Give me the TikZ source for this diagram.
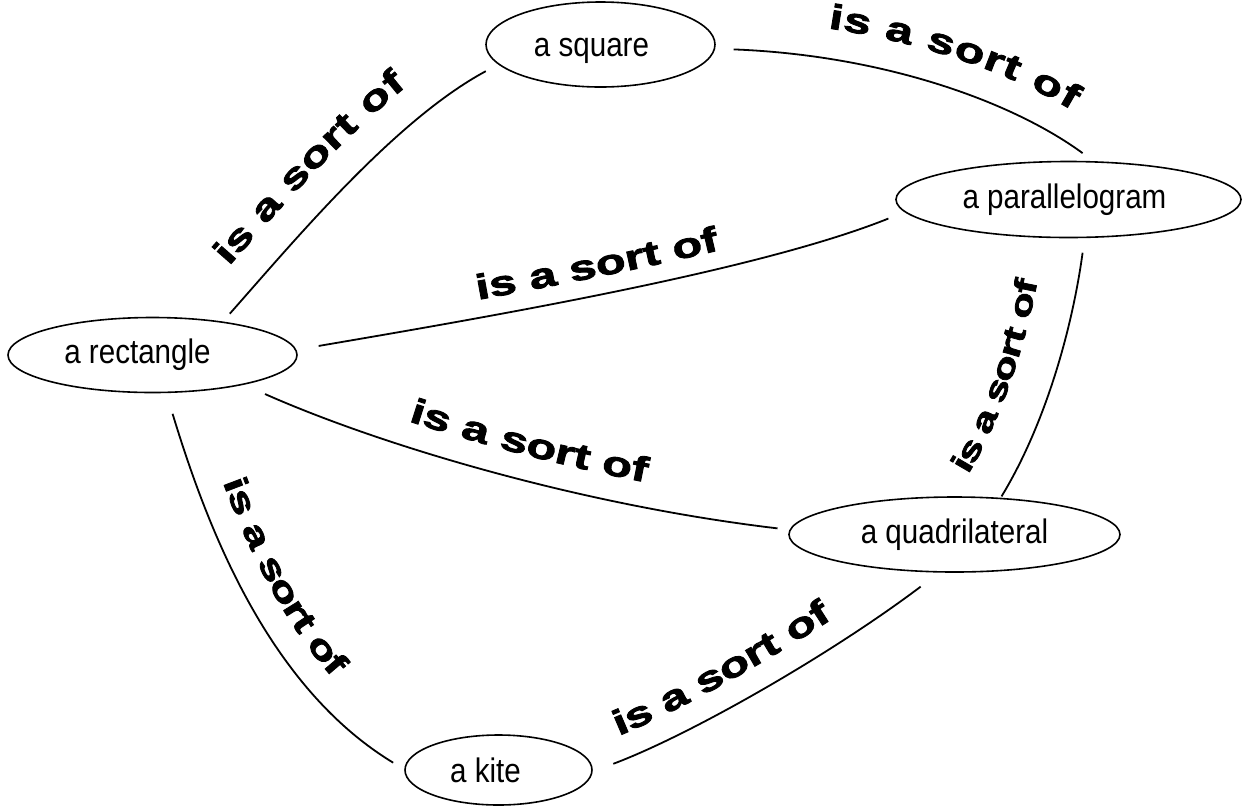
\documentclass[tikz,border=0pt]{standalone}
\usepackage{fontspec}
\setmainfont{Liberation Sans}
\newfontfamily\nodefamily[FakeStretch=0.87]{Liberation Sans}
\newfontfamily\lblfamily[FakeStretch=1.4,FakeBold=2.5]{Liberation Sans}
\newcommand\lblfont[1]{\lblfamily\bfseries\fontsize{#1}{#1}\selectfont}
\usetikzlibrary{decorations.text,shapes.geometric}
\tikzset{
  nd/.style={draw, ellipse, line width=1.6pt, inner sep=0pt,
    font=\nodefamily\fontsize{34}{34}\selectfont},
  con/.style={line width=1.8pt},
  lbl/.style n args={3}{postaction={decorate, decoration={text along path,
    text={|\lblfont{#3}|is a sort of}, raise=#1, text align={left indent=#2}}}}
}
\begin{document}
\begin{tikzpicture}[x=1pt,y=-1pt]
\fill[white] (0,0) rectangle (1248,807);
\useasboundingbox (0,0) rectangle (1248,807);
\node[nd, minimum width=229pt, minimum height=85pt] (sq) at (600.5,44.5)
  {\raisebox{-6pt}[\height][\depth]{a square}\hspace*{18pt}};
\node[nd, minimum width=345pt, minimum height=76pt] (par) at (1068.5,199.5)
  {a parallelogram\hspace*{8pt}};
\node[nd, minimum width=289pt, minimum height=75pt] (rect) at (152.5,355)
  {a rectangle\hspace*{30pt}};
\node[nd, minimum width=331pt, minimum height=75pt] (quad) at (954.5,534.5)
  {a quadrilateral};
\node[nd, minimum width=187pt, minimum height=70pt] (kite) at (498.5,770)
  {a kite\hspace*{26pt}};
% square -> parallelogram
\draw[con, lbl={30pt}{90pt}{35}] ([shift={(-2.8:18.4pt)}]sq.-2.8) .. controls (880,55) and (1010,100) .. ([shift={(73.5:8pt)}]par.73.5);
% rectangle -> square
\draw[con, lbl={32pt}{35pt}{35}] ([shift={(28.8:14.6pt)}]rect.28.8) .. controls (295,240) and (395,120) .. ([shift={(193.7:17pt)}]sq.193.7);
% rectangle -> parallelogram
\draw[con, lbl={18pt}{165pt}{35}] ([shift={(3.85:23.7pt)}]rect.3.85) .. controls (500,315) and (760,270) .. ([shift={(186.3:23.4pt)}]par.186.3);
% rectangle -> quadrilateral
\draw[con, lbl={25pt}{145pt}{35}] ([shift={(-19.6:25.7pt)}]rect.-19.6) .. controls (380,445) and (580,505) .. ([shift={(178.2:12.6pt)}]quad.178.2);
% rectangle -> kite
\draw[con, lbl={26pt}{82pt}{33}] ([shift={(-71.4:21.8pt)}]rect.-71.4) .. controls (205,520) and (265,685) .. ([shift={(176.2:12.6pt)}]kite.176.2);
% quadrilateral -> parallelogram
\draw[con, lbl={40pt}{2pt}{31}] ([shift={(39.5:2pt)}]quad.39.5) .. controls (1045,425) and (1072,330) .. ([shift={(-75.6:15pt)}]par.-75.6);
% kite -> quadrilateral
\draw[con, lbl={24pt}{16pt}{35}] ([shift={(3.5:21.4pt)}]kite.3.5) .. controls (690,735) and (830,655) .. ([shift={(237:17pt)}]quad.237);
\end{tikzpicture}
\end{document}
